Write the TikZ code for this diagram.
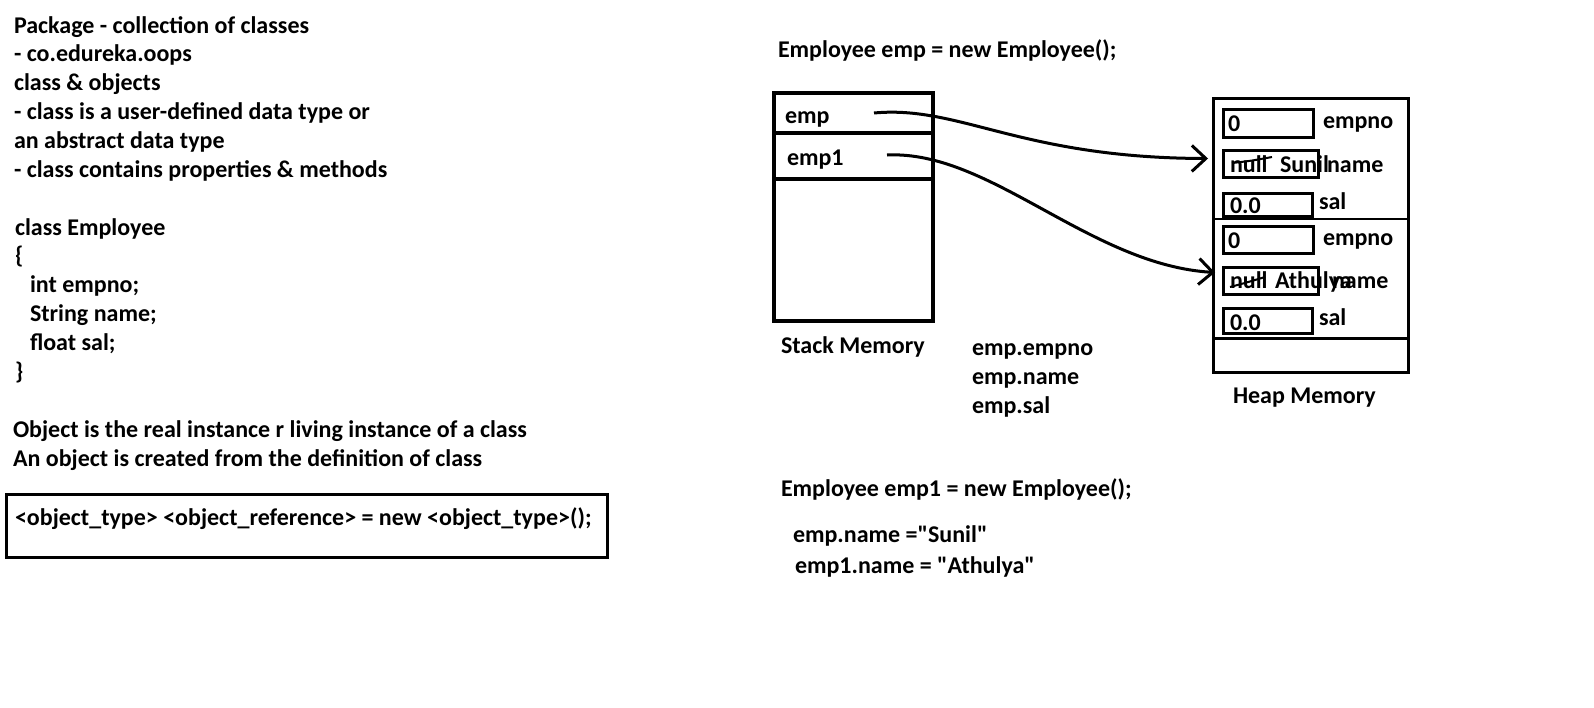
\documentclass[tikz,border=0pt]{standalone}
\usepackage{fontspec}
\setmainfont{Carlito}
\usetikzlibrary{arrows.meta,positioning}

\begin{document}
\begin{tikzpicture}[x=1pt,y=-1pt,
  every node/.style={font=\bfseries\fontsize{24}{28.8}\selectfont},
  txt/.style={anchor=base west,inner sep=0pt,outer sep=0pt},
  para/.style={txt,align=left},
  cell/.style={draw,line width=3.5pt,minimum width=159pt,inner sep=0pt,outer sep=0pt},
  field/.style={draw,line width=3pt,inner sep=0pt,outer sep=0pt},
  ref/.style={-{Straight Barb[length=14pt,width=26pt,line width=3pt]},line width=3pt},
  strike/.style={line width=2pt}]
\useasboundingbox (0,0) rectangle (1594,707);
% left notes (base = last line)
\node[para] (pkg) at (14,177) {Package - collection of classes\\- co.edureka.oops\\class \& objects\\- class is a user-defined data type or\\an abstract data type\\- class contains properties \& methods};
\node[para] (cls) at (15,379) {class Employee\\\{\\\hspace*{15pt}int empno;\\\hspace*{15pt}String name;\\\hspace*{15pt}float sal;\\\}};
\node[para] (obj) at (13,466) {Object is the real instance r living instance of a class\\An object is created from the definition of class};
\node[draw,line width=3pt,anchor=north west,minimum width=601pt,minimum height=63pt,inner sep=0pt,outer sep=0pt] (synbox) at (6,494) {};
\node[txt] (syntax) at (15,525) {<object\_type> <object\_reference> = new <object\_type>();};
% stack memory
\node[txt] (decl) at (778,57) {Employee emp = new Employee();};
\node[cell,anchor=north west,minimum height=40pt] (empcell) at (774,93) {};
\node[cell,minimum height=46pt,below=0pt of empcell] (emp1cell) {};
\node[cell,minimum height=142pt,below=0pt of emp1cell] (restcell) {};
\node[txt] (emp) at (785,123) {emp};
\node[txt] (emp1) at (787,165) {emp1};
\coordinate (empptr) at (874,113);
\coordinate (emp1ptr) at (887,155);
\node[txt] (stacklbl) at (781,353) {Stack Memory};
\node[para] (access) at (972,413) {emp.empno\\emp.name\\emp.sal};
\node[txt] (decl1) at (781,496) {Employee emp1 = new Employee();};
\node[txt] (assign) at (793,542) {emp.name =\textquotedbl Sunil\textquotedbl};
\node[txt] (assign1) at (795,573) {emp1.name = \textquotedbl Athulya\textquotedbl};
% heap memory
\node[draw,line width=3pt,anchor=north west,minimum width=195pt,minimum height=274pt,inner sep=0pt,outer sep=0pt] (heap) at (1213,98) {};
\draw[line width=1.5pt] (heap.west |- 0,219) -- (heap.east |- 0,219);
\draw[line width=3pt] (heap.west |- 0,338) -- (heap.east |- 0,338);
\node[field,minimum width=90pt,minimum height=28pt] (e1no) at (1268,123) {};
\node[field,minimum width=95pt,minimum height=27pt] (e1name) at (1270.5,163.5) {};
\node[field,minimum width=89pt,minimum height=23pt] (e1sal) at (1267.5,204.5) {};
\node[field,minimum width=90pt,minimum height=27pt] (e2no) at (1268,239.5) {};
\node[field,minimum width=95pt,minimum height=27pt] (e2name) at (1270.5,280.5) {};
\node[field,minimum width=89pt,minimum height=25pt] (e2sal) at (1267.5,320.5) {};
\node[txt] at (1228,131) {0};
\node[txt] at (1230,172) {null\hspace*{7pt} Sunil};
\node[txt] at (1230,213) {0.0};
\node[txt] at (1228,248) {0};
\node[txt] at (1230,288) {null\hspace*{2pt} Athulya};
\node[txt] at (1230,330) {0.0};
\draw[strike] (1232,163) .. controls (1250,161) .. (1272,157);
\draw[strike] (1230,287) .. controls (1245,283) .. (1265,277);
\node[txt] at (1323,128) {empno};
\node[txt] at (1327,172) {name};
\node[txt] at (1319,209) {sal};
\node[txt] at (1323,245) {empno};
\node[txt] at (1332,288) {name};
\node[txt] at (1319,325) {sal};
\node[txt] (heaplbl) at (1233,403) {Heap Memory};
% references
\draw[ref] (empptr) .. controls (960,105) and (1020,158) .. ([shift={(-15pt,5pt)}]e1name.west);
\draw[ref] (emp1ptr) .. controls (990,150) and (1090,265) .. ([shift={(-8pt,8pt)}]e2name.west);
\end{tikzpicture}
\end{document}
